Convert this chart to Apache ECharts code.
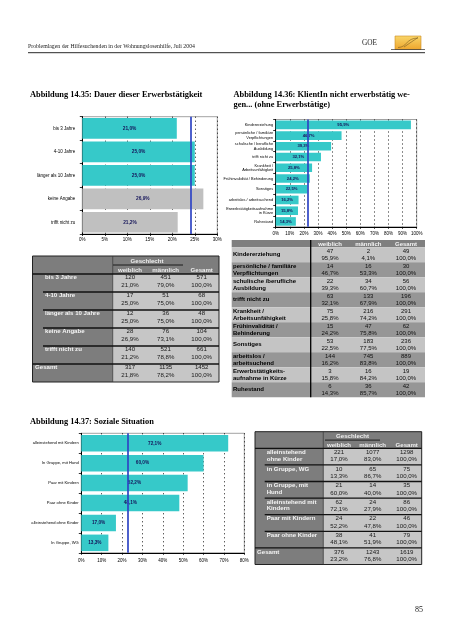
<!DOCTYPE html>
<html><head><meta charset="utf-8">
<script src="https://cdn.jsdelivr.net/npm/echarts@6/dist/echarts.min.js"></script>
<style>html,body{margin:0;padding:0;background:#fff}#c{width:452px;height:640px}</style>
</head><body><div id="c"></div>
<script>
// ---------- Chart 14.35 ----------
const c1Categories = ['bis 3 Jahre', '4-10 Jahre', 'länger als 10 Jahre', 'keine Angabe', 'trifft nicht zu'];
const c1Values = [21.0, 25.0, 25.0, 26.9, 21.2];
const c1Reference = 24.0;
const c1Max = 30, c1Step = 5;
// table 14.35
const t1Rows = [['bis 3 Jahre'], ['4-10 Jahre'], ['länger als 10 Jahre'], ['keine Angabe'], ['trifft nicht zu'], ['Gesamt']];
const t1W = [120, 17, 12, 28, 140, 317];
const t1WP = [21.0, 25.0, 25.0, 26.9, 21.2, 21.8];
const t1M = [451, 51, 36, 76, 521, 1135];
const t1MP = [79.0, 75.0, 75.0, 73.1, 78.8, 78.2];
const t1G = [571, 68, 48, 104, 661, 1452];

// ---------- Chart 14.36 ----------
const c2Categories = ['Kindererziehung', 'persönliche / familiäre\nVerpflichtungen', 'schulische / berufliche\nAusbildung', 'trifft nicht zu', 'Krankheit /\nArbeitsunfähigkeit', 'Frühinvalidität / Behinderung', 'Sonstiges', 'arbeitslos / arbeitsuchend', 'Erwerbstätigkeitsaufnahme\nin Kürze', 'Ruhestand'];
const c2Values = [95.9, 46.7, 39.3, 32.1, 25.8, 24.2, 22.5, 16.2, 15.8, 14.3];
const c2Reference = 22.4;
const c2Max = 100, c2Step = 10;
// table 14.36
const t2Rows = [['Kindererziehung'], ['persönliche / familiäre', 'Verpflichtungen'], ['schulische /berufliche', 'Ausbildung'], ['trifft nicht zu'], ['Krankheit /', 'Arbeitsunfähigkeit'], ['Frühinvalidität /', 'Behinderung'], ['Sonstiges'], ['arbeitslos /', 'arbeitsuchend'], ['Erwerbstätigkeits-', 'aufnahme in Kürze'], ['Ruhestand']];
const t2W = [47, 14, 22, 63, 75, 15, 53, 144, 3, 6];
const t2WP = [95.9, 46.7, 39.3, 32.1, 25.8, 24.2, 22.5, 16.2, 15.8, 14.3];
const t2M = [2, 16, 34, 133, 216, 47, 183, 745, 16, 36];
const t2MP = [4.1, 53.3, 60.7, 67.9, 74.2, 75.8, 77.5, 83.8, 84.2, 85.7];
const t2G = [49, 30, 56, 196, 291, 62, 236, 889, 19, 42];

// ---------- Chart 14.37 ----------
const c3Categories = ['alleinstehend mit Kindern', 'In Gruppe, mit Hund', 'Paar mit Kindern', 'Paar ohne Kinder', 'alleinstehend ohne Kinder', 'In Gruppe, WG'];
const c3Values = [72.1, 60.0, 52.2, 48.1, 17.0, 13.3];
const c3Reference = 23.0;
const c3Max = 80, c3Step = 10;
// table 14.37
const t3Rows = [['alleinstehend', 'ohne Kinder'], ['in Gruppe, WG'], ['in Gruppe, mit', 'Hund'], ['alleinstehend mit', 'Kindern'], ['Paar mit Kindern'], ['Paar ohne Kinder'], ['Gesamt']];
const t3W = [221, 10, 21, 62, 24, 38, 376];
const t3WP = [17.0, 13.3, 60.0, 72.1, 52.2, 48.1, 23.2];
const t3M = [1077, 65, 14, 24, 22, 41, 1243];
const t3MP = [83.0, 86.7, 40.0, 27.9, 47.8, 51.9, 76.8];
const t3G = [1298, 75, 35, 86, 46, 79, 1619];

const headerText = ['Problemlagen der Hilfesuchenden in der Wohnungslosenhilfe, Juli 2004', 'GOE', '85'];
const titles = ['Abbildung 14.35: Dauer dieser Erwerbstätigkeit', 'Abbildung 14.36: KlientIn nicht erwerbstätig we-', 'gen... (ohne Erwerbstätige)', 'Abbildung 14.37: Soziale Situation'];
const colHeads = ['weiblich', 'männlich', 'Gesamt'];
const groupHead = 'Geschlecht';

// ---------- helpers ----------
const pct = v => v.toFixed(1).replace('.', ',') + '%';
const SANS = '"Liberation Sans", Arial, sans-serif';
const SERIF = '"Liberation Serif", "Times New Roman", serif';
const TEAL = '#36c9c9', GREY = '#c0c0c0', BLUE = '#2f45c4';

function txt(x, y, s, font, fill, align) {
  return { type: 'text', z: 20, silent: true, style: { x: x, y: y, text: s, font: font, fill: fill || '#000',
    align: align || 'left', textAlign: align || 'left', verticalAlign: 'middle', textVerticalAlign: 'middle' } };
}
function rect(x, y, w, h, fill, stroke, lw) {
  return { type: 'rect', z: 5, silent: true, shape: { x: x, y: y, width: w, height: h },
    style: { fill: fill || 'none', stroke: stroke || null, lineWidth: lw || 0 } };
}
function line(x1, y1, x2, y2, stroke, lw) {
  return { type: 'line', z: 15, silent: true, shape: { x1: x1, y1: y1, x2: x2, y2: y2 }, style: { stroke: stroke || '#000', lineWidth: lw || 1 } };
}

function xAx(grid, max, step, margin) {
  return { type: 'value', gridIndex: grid, min: 0, max: max, interval: step,
    axisLine: { show: true, lineStyle: { color: '#000', width: 1 } },
    axisTick: { show: true, length: 2, lineStyle: { color: '#000', width: 0.8 } },
    axisLabel: { formatter: '{value}%', fontSize: 4.5, fontFamily: SANS, color: '#000', margin: margin, showMinLabel: true, showMaxLabel: true },
    splitLine: { show: true, lineStyle: { color: '#000', width: 0.9, type: [1, 3] } } };
}
function yAx(grid, cats, fs, lh, margin) {
  return { type: 'category', gridIndex: grid, data: cats, inverse: true,
    axisLine: { show: true, lineStyle: { color: '#000', width: 1 } },
    axisTick: { show: true, length: 2.5, lineStyle: { color: '#000', width: 0.8 } },
    axisLabel: { interval: 0, fontSize: fs, lineHeight: lh, fontFamily: SANS, color: '#000', margin: margin, align: 'right' } };
}
function barSeries(idx, values, gap, colorFn, fs, ref) {
  return { type: 'bar', xAxisIndex: idx, yAxisIndex: idx, data: values, barCategoryGap: gap,
    itemStyle: { color: colorFn },
    label: { show: true, position: 'inside', formatter: p => pct(p.value), fontSize: fs, fontFamily: SANS, fontWeight: 'bold', color: '#15155a' },
    markLine: { silent: true, animation: false, symbol: ['none', 'none'], label: { show: false },
      lineStyle: { color: BLUE, width: 1.7, type: 'solid' }, data: [{ xAxis: ref }] } };
}

// Tables of type "Geschlecht" (14.35, 14.37)
function groupTable(c, rows, W, WP, M, MP, G) {
  const g = [];
  const n = rows.length;
  const yEnd = c.y0 + c.headH + n * c.rowH;
  const fontB = 'bold ' + c.fs + 'px ' + SANS;
  const fontN = c.fs + 'px ' + SANS;
  g.push(rect(c.x0, c.y0, c.xDiv - c.x0, yEnd - c.y0, '#7d7d7d'));
  g.push(rect(c.xDiv, c.y0, c.x1 - c.xDiv, c.headH, '#7d7d7d'));
  g.push(rect(c.xDiv, c.y0 + c.headH, c.x1 - c.xDiv, n * c.rowH, '#c6c6c6'));
  g.push(txt(c.geschX, c.y0 + c.gY, groupHead, fontB, '#eeeeee', 'center'));
  g.push(line(c.gLine[0], c.y0 + c.gLineY, c.gLine[1], c.y0 + c.gLineY, '#111', 0.9));
  colHeads.forEach((h, j) => g.push(txt(c.cols[j], c.y0 + c.hY, h, fontB, '#eeeeee', 'center')));
  g.push(line(c.xDiv, c.y0, c.xDiv, yEnd, '#333', 0.8));
  rows.forEach((lbl, i) => {
    const top = c.y0 + c.headH + i * c.rowH;
    const isTotal = i === n - 1;
    g.push(line(isTotal || i === 0 ? c.x0 : c.lx - 2, top, c.x1, top, '#111', 1.3));
    lbl.forEach((s, k) => g.push(txt(isTotal ? c.gx : c.lx, top + c.v1 + k * c.lineGap, s, fontB, '#f4f4f4', 'left')));
    const nums = [W[i], M[i], G[i]], ps = [WP[i], MP[i], 100];
    for (let j = 0; j < 3; j++) {
      g.push(txt(c.cols[j], top + c.v1, String(nums[j]), fontN, '#1a1a1a', 'center'));
      g.push(txt(c.cols[j], top + c.v2, pct(ps[j]), fontN, '#1a1a1a', 'center'));
    }
  });
  g.push(rect(c.x0, c.y0, c.x1 - c.x0, yEnd - c.y0, null, '#222', 1));
  return g;
}

// Table 14.36 (striped)
function stripedTable(c, rows, W, WP, M, MP, G) {
  const g = [];
  const n = rows.length;
  const yEnd = c.y0 + c.headH + n * c.rowH;
  const fontB = 'bold ' + c.fs + 'px ' + SANS;
  const fontN = c.fs + 'px ' + SANS;
  g.push(rect(c.x0, c.y0, c.x1 - c.x0, c.headH, '#7f7f7f'));
  colHeads.forEach((h, j) => g.push(txt(c.cols[j], c.y0 + c.headH / 2 + 0.3, h, fontB, '#f2f2f2', 'center')));
  rows.forEach((lbl, i) => {
    const top = c.y0 + c.headH + i * c.rowH;
    g.push(rect(c.x0, top, c.x1 - c.x0, c.rowH, i % 2 === 0 ? '#c4c4c4' : '#969696'));
    if (lbl.length === 1) g.push(txt(c.lx, top + c.rowH / 2, lbl[0], fontB, '#000', 'left'));
    else lbl.forEach((s, k) => g.push(txt(c.lx, top + c.v1 + k * (c.v2 - c.v1), s, fontB, '#000', 'left')));
    const nums = [W[i], M[i], G[i]], ps = [WP[i], MP[i], 100];
    for (let j = 0; j < 3; j++) {
      g.push(txt(c.cols[j], top + c.v1, String(nums[j]), fontN, '#111', 'center'));
      g.push(txt(c.cols[j], top + c.v2, pct(ps[j]), fontN, '#111', 'center'));
    }
  });
  g.push(line(c.xDiv, c.y0, c.xDiv, yEnd, '#000', 1.3));
  return g;
}

const graphics = [];
// page header
graphics.push(txt(28, 46.5, headerText[0], '5.8px ' + SERIF, '#222', 'left'));
graphics.push(txt(362, 43.5, headerText[1], '7.3px ' + SERIF, '#222', 'left'));
graphics.push(line(28, 52.7, 425, 52.7, '#111', 0.9));
graphics.push({ type: 'rect', z: 5, silent: true, shape: { x: 395, y: 36, width: 26, height: 13.5 },
  style: { fill: new echarts.graphic.LinearGradient(0, 0, 0, 1, [{ offset: 0, color: '#f9d66a' }, { offset: 1, color: '#eea52c' }]), stroke: '#c98a24', lineWidth: 0.6 } });
graphics.push(line(391, 49.5, 425, 49.5, '#333', 0.7));
graphics.push({ type: 'bezierCurve', z: 16, silent: true, shape: { x1: 398, y1: 47.5, x2: 418, y2: 38, cpx1: 407, cpy1: 47.5, cpx2: 406, cpy2: 38 }, style: { stroke: '#7a5a20', lineWidth: 0.6, fill: 'none' } });
graphics.push(line(404, 47, 418, 37.5, '#7a5a20', 0.6));
graphics.push(txt(423, 609.5, headerText[2], '8px ' + SERIF, '#222', 'right'));
// titles
graphics.push(txt(30, 94.5, titles[0], 'bold 8.4px ' + SERIF, '#000', 'left'));
graphics.push(txt(233.5, 95, titles[1], 'bold 8.4px ' + SERIF, '#000', 'left'));
graphics.push(txt(233.5, 104.5, titles[2], 'bold 8.4px ' + SERIF, '#000', 'left'));
graphics.push(txt(30, 421.7, titles[3], 'bold 8.4px ' + SERIF, '#000', 'left'));
// tables
graphics.push(...groupTable({ x0: 32.5, x1: 219, xDiv: 112.7, y0: 256, headH: 18, rowH: 18, cols: [130, 165.7, 201.7],
  geschX: 147, gLine: [113, 183], gY: 5, gLineY: 9, hY: 14, lx: 45, gx: 35, v1: 3.6, v2: 11, lineGap: 7.4, fs: 6.1 },
  t1Rows, t1W, t1WP, t1M, t1MP, t1G));
graphics.push(...stripedTable({ x0: 231.7, x1: 425, xDiv: 310.7, y0: 240, headH: 7.3, rowH: 15, cols: [330, 368.3, 406],
  lx: 233, v1: 3.8, v2: 11, fs: 6 }, t2Rows, t2W, t2WP, t2M, t2MP, t2G));
graphics.push(...groupTable({ x0: 255, x1: 421.7, xDiv: 323.3, y0: 431.7, headH: 16.6, rowH: 16.6, cols: [339, 372.7, 406.7],
  geschX: 352.5, gLine: [325, 380], gY: 4.3, gLineY: 8.4, hY: 13.2, lx: 266.7, gx: 257, v1: 4, v2: 11.5, lineGap: 6.6, fs: 6.1 },
  t3Rows, t3W, t3WP, t3M, t3MP, t3G));

const chart = echarts.init(document.getElementById('c'), null, { renderer: 'canvas', width: 452, height: 640 });
chart.setOption({
  animation: false,
  backgroundColor: '#ffffff',
  grid: [
    { left: 82.3, top: 116.7, width: 135, height: 117.3, show: true, borderColor: '#8a8a8a', borderWidth: 0.8 },
    { left: 275.7, top: 119.5, width: 141, height: 107.3, show: true, borderColor: '#8a8a8a', borderWidth: 0.8 },
    { left: 81.3, top: 433.3, width: 163, height: 119.5, show: true, borderColor: '#8a8a8a', borderWidth: 0.8 }
  ],
  xAxis: [xAx(0, c1Max, c1Step, 3), xAx(1, c2Max, c2Step, 4), xAx(2, c3Max, c3Step, 5)],
  yAxis: [yAx(0, c1Categories, 4.5, 5, 7), yAx(1, c2Categories, 3.9, 4.4, 2.6), yAx(2, c3Categories, 4.1, 5, 2.6)],
  series: [
    barSeries(0, c1Values, '12%', p => (p.dataIndex >= 3 ? GREY : TEAL), 4.8, c1Reference),
    barSeries(1, c2Values, '20%', TEAL, 4.2, c2Reference),
    barSeries(2, c3Values, '17%', TEAL, 4.7, c3Reference)
  ],
  graphic: { elements: graphics }
});
</script>
</body></html>
